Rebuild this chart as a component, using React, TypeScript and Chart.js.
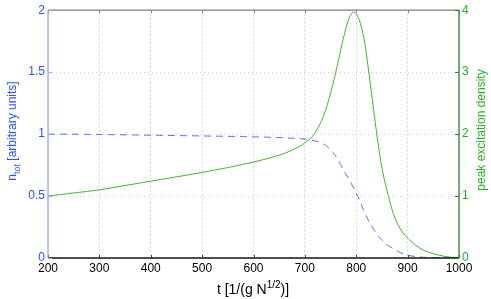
import React, { useEffect, useRef } from "react";
import { Chart, registerables } from "chart.js";

Chart.register(...registerables);

const times = [200, 250, 300, 350, 400, 450, 500, 550, 600, 650, 680, 700, 720, 740, 755, 765, 775, 785, 795, 803, 810, 817, 823, 831, 839, 846, 852, 862, 872, 885, 898, 915, 930, 950, 970, 985, 1000];
const peakDensity = [1.0, 1.05, 1.1, 1.17, 1.24, 1.31, 1.38, 1.46, 1.55, 1.66, 1.76, 1.86, 2.02, 2.38, 2.82, 3.18, 3.55, 3.85, 3.97, 3.9, 3.73, 3.45, 3.09, 2.58, 2.06, 1.65, 1.37, 1.02, 0.72, 0.48, 0.34, 0.21, 0.13, 0.07, 0.03, 0.012, 0];
const nTot = [1.0, 0.999, 0.997, 0.994, 0.991, 0.988, 0.985, 0.982, 0.978, 0.972, 0.966, 0.96, 0.945, 0.91, 0.85, 0.79, 0.71, 0.64, 0.565, 0.5, 0.43, 0.36, 0.31, 0.25, 0.2, 0.165, 0.135, 0.1, 0.075, 0.045, 0.025, 0.012, 0.006, 0.003, 0.001, 0, 0];
const xTicks = [200, 300, 400, 500, 600, 700, 800, 900, 1000];
const leftTicks = [0, 0.5, 1, 1.5, 2];
const rightTicks = [0, 1, 2, 3, 4];

const BLUE_TXT = "rgb(45,80,255)";
const GREEN_TXT = "rgb(40,175,40)";
const FONT = "'Liberation Sans', Arial, Helvetica, sans-serif";

const axesPlugin = {
  id: "matlabAxes",
  afterDraw(chart: any) {
    const ctx = chart.ctx;
    const { left, right, top, bottom } = chart.chartArea;
    const xs = chart.scales.x;
    const yl = chart.scales.y;
    const yr = chart.scales.y1;
    ctx.save();
    ctx.strokeStyle = "rgb(130,130,130)";
    ctx.lineWidth = 1.3;
    ctx.beginPath();
    ctx.moveTo(left, top);
    ctx.lineTo(right, top);
    ctx.stroke();
    ctx.strokeStyle = "rgb(20,20,20)";
    ctx.beginPath();
    ctx.moveTo(left, bottom);
    ctx.lineTo(right, bottom);
    ctx.stroke();
    ctx.lineWidth = 1;
    xTicks.forEach((v) => {
      const px = Math.round(xs.getPixelForValue(v)) + 0.5;
      ctx.strokeStyle = "rgb(60,60,60)";
      ctx.beginPath();
      ctx.moveTo(px, bottom);
      ctx.lineTo(px, bottom - 3);
      ctx.stroke();
      ctx.strokeStyle = "rgb(130,130,130)";
      ctx.beginPath();
      ctx.moveTo(px, top);
      ctx.lineTo(px, top + 3);
      ctx.stroke();
    });
    ctx.strokeStyle = "rgb(150,170,255)";
    ctx.lineWidth = 1.3;
    ctx.beginPath();
    ctx.moveTo(left, top);
    ctx.lineTo(left, bottom);
    ctx.stroke();
    ctx.lineWidth = 1;
    leftTicks.forEach((v) => {
      const py = Math.round(yl.getPixelForValue(v)) + 0.5;
      ctx.beginPath();
      ctx.moveTo(left, py);
      ctx.lineTo(left + 4, py);
      ctx.stroke();
    });
    ctx.strokeStyle = "rgb(40,130,60)";
    ctx.lineWidth = 1.3;
    ctx.beginPath();
    ctx.moveTo(right, top);
    ctx.lineTo(right, bottom);
    ctx.stroke();
    ctx.lineWidth = 1;
    rightTicks.forEach((v) => {
      const py = Math.round(yr.getPixelForValue(v)) + 0.5;
      ctx.beginPath();
      ctx.moveTo(right, py);
      ctx.lineTo(right - 4, py);
      ctx.stroke();
    });

    const drawRich = (parts: { t: string; size: number; dy: number }[], color: string, cx: number, cy: number, rot: number) => {
      ctx.save();
      ctx.translate(cx, cy);
      ctx.rotate(rot);
      ctx.fillStyle = color;
      ctx.textBaseline = "alphabetic";
      ctx.textAlign = "left";
      let total = 0;
      parts.forEach((p) => {
        ctx.font = `${p.size}px ${FONT}`;
        total += ctx.measureText(p.t).width;
      });
      let x = -total / 2;
      parts.forEach((p) => {
        ctx.font = `${p.size}px ${FONT}`;
        ctx.fillText(p.t, x, p.dy);
        x += ctx.measureText(p.t).width;
      });
      ctx.restore();
    };
    drawRich(
      [
        { t: "n", size: 12, dy: 0 },
        { t: "tot", size: 9, dy: 4 },
        { t: " [arbitrary units]", size: 12, dy: 0 },
      ],
      BLUE_TXT,
      16,
      131,
      -Math.PI / 2
    );
    drawRich([{ t: "peak excitation density", size: 12, dy: 0 }], GREEN_TXT, 485, 130, -Math.PI / 2);
    drawRich(
      [
        { t: "t [1/(g N", size: 14, dy: 0 },
        { t: "1/2", size: 10, dy: -6 },
        { t: ")]", size: 14, dy: 0 },
      ],
      "rgb(0,0,0)",
      253,
      294,
      0
    );
    ctx.restore();
  },
};

export default function App() {
  const ref = useRef<HTMLCanvasElement | null>(null);
  useEffect(() => {
    if (!ref.current) return;
    const chart = new Chart(ref.current, {
      type: "line",
      data: {
        datasets: [
          {
            label: "n_tot",
            data: times.map((t, i) => ({ x: t, y: nTot[i] })),
            yAxisID: "y",
            borderColor: "rgb(90,115,255)",
            borderWidth: 1,
            borderDash: [7, 5],
            pointRadius: 0,
            cubicInterpolationMode: "monotone",
            fill: false,
          },
          {
            label: "peak",
            data: times.map((t, i) => ({ x: t, y: peakDensity[i] })),
            yAxisID: "y1",
            borderColor: "rgb(70,180,50)",
            borderWidth: 1,
            pointRadius: 0,
            cubicInterpolationMode: "monotone",
            fill: false,
          },
        ],
      },
      options: {
        animation: false,
        responsive: false,
        layout: { padding: { top: 10, left: 0, right: 0, bottom: 0 } },
        plugins: { legend: { display: false }, tooltip: { enabled: false } },
        scales: {
          x: {
            type: "linear",
            min: 200,
            max: 1000,
            afterBuildTicks: (s: any) => {
              s.ticks = xTicks.map((v) => ({ value: v }));
            },
            afterFit: (s: any) => {
              s.height = 41;
            },
            ticks: { color: "#000", font: { family: FONT, size: 12 }, padding: 3, maxRotation: 0, autoSkip: false, callback: (v: any) => String(v) },
            grid: { color: "rgb(185,185,185)", drawTicks: false },
            border: { display: false, dash: [1, 3] },
          },
          y: {
            type: "linear",
            position: "left",
            min: 0,
            max: 2,
            afterBuildTicks: (s: any) => {
              s.ticks = leftTicks.map((v) => ({ value: v }));
            },
            afterFit: (s: any) => {
              s.width = 48;
            },
            ticks: { color: BLUE_TXT, font: { family: FONT, size: 12 }, padding: 3, callback: (v: any) => String(v) },
            grid: { color: "rgb(205,205,250)", drawTicks: false },
            border: { display: false, dash: [1, 3] },
          },
          y1: {
            type: "linear",
            position: "right",
            min: 0,
            max: 4,
            afterBuildTicks: (s: any) => {
              s.ticks = rightTicks.map((v) => ({ value: v }));
            },
            afterFit: (s: any) => {
              s.width = 32;
            },
            ticks: { color: GREEN_TXT, font: { family: FONT, size: 12 }, padding: 3, callback: (v: any) => String(v) },
            grid: { display: false, drawTicks: false },
            border: { display: false },
          },
        },
      } as any,
      plugins: [axesPlugin],
    });
    return () => chart.destroy();
  }, []);
  return (
    <div style={{ position: "fixed", left: 0, top: 0, width: 491, height: 299, background: "#fff" }}>
      <canvas ref={ref} width={491} height={299} />
    </div>
  );
}
